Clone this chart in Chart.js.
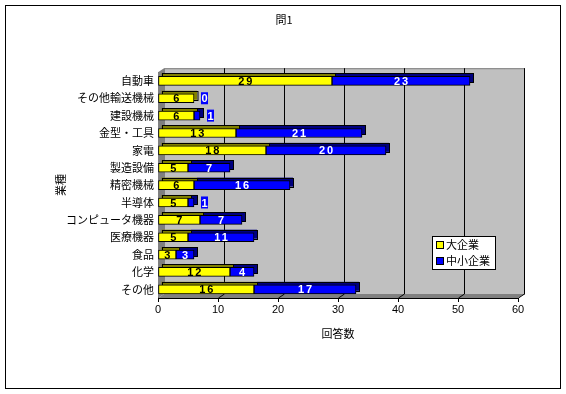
<!DOCTYPE html>
<html>
<head>
<meta charset="utf-8">
<script src="https://cdn.jsdelivr.net/npm/chart.js@4"></script>
<style>
  html, body { margin: 0; padding: 0; background: #fff; }
  #wrap { width: 566px; height: 394px; }
</style>
</head>
<body>
<div id="wrap"><canvas id="chart" width="566" height="394"></canvas></div>
<script>
// 業種ごとの回答数
const categories = ['自動車', 'その他輸送機械', '建設機械', '金型・工具', '家電', '製造設備', '精密機械',
    '半導体', 'コンピュータ機器', '医療機器', '食品', '化学', 'その他'];
const largeCo = [29, 6, 6, 13, 18, 5, 6, 5, 7, 5, 3, 12, 16];
const smallCo = [23, 0, 1, 21, 20, 7, 16, 1, 7, 11, 3, 4, 17];
const xTicks = [0, 10, 20, 30, 40, 50, 60];

const JP = '"Noto Sans CJK JP", sans-serif';
const DEPTH_X = 6, DEPTH_Y = 4;

// 背景の壁と床（3D風）
const wallPlugin = {
    id: 'wall',
    beforeDatasetsDraw(chart) {
        const { ctx, chartArea: a, scales: { x } } = chart;
        ctx.save();
        // 左の壁
        ctx.fillStyle = '#808080';
        ctx.beginPath();
        ctx.moveTo(a.left, a.top);
        ctx.lineTo(a.left + DEPTH_X, a.top - DEPTH_Y);
        ctx.lineTo(a.left + DEPTH_X, a.bottom - DEPTH_Y);
        ctx.lineTo(a.left, a.bottom);
        ctx.closePath();
        ctx.fill();
        // 奥の壁
        ctx.fillStyle = '#c0c0c0';
        ctx.fillRect(a.left + DEPTH_X, a.top - DEPTH_Y, a.right - a.left, a.bottom - a.top);
        ctx.strokeStyle = '#808080';
        ctx.lineWidth = 1;
        ctx.strokeRect(a.left + DEPTH_X + 0.5, a.top - DEPTH_Y + 0.5, a.right - a.left, a.bottom - a.top);
        // 床
        ctx.fillStyle = '#808080';
        ctx.beginPath();
        ctx.moveTo(a.left, a.bottom);
        ctx.lineTo(a.left + DEPTH_X, a.bottom - DEPTH_Y);
        ctx.lineTo(a.right + DEPTH_X, a.bottom - DEPTH_Y);
        ctx.lineTo(a.right, a.bottom);
        ctx.closePath();
        ctx.fill();
        // 目盛線
        ctx.strokeStyle = '#000';
        x.ticks.forEach(t => {
            if (t.value === 0) return;
            const px = Math.round(x.getPixelForValue(t.value) + DEPTH_X) + 0.5;
            ctx.beginPath();
            ctx.moveTo(px, a.top - DEPTH_Y);
            ctx.lineTo(px, a.bottom - DEPTH_Y);
            ctx.lineTo(px - DEPTH_X, a.bottom);
            ctx.stroke();
        });
        // 棒の奥行き
        chart.data.datasets.forEach((ds, i) => {
            const meta = chart.getDatasetMeta(i);
            meta.data.forEach(bar => {
                const { x: xe, base, y, height } = bar.getProps(['x', 'base', 'y', 'height'], true);
                const w = xe - base;
                if (w <= 0) return;
                ctx.fillStyle = ds.shadowColor;
                ctx.fillRect(base + 3, y - height / 2 - 3, w, height);
                ctx.strokeStyle = '#000';
                ctx.strokeRect(Math.round(base + 3) + 0.5, Math.round(y - height / 2 - 3) + 0.5, w, height);
            });
        });
        ctx.restore();
    }
};

// 値ラベル
const valueLabels = {
    id: 'valueLabels',
    afterDatasetsDraw(chart) {
        const { ctx } = chart;
        ctx.save();
        ctx.font = 'bold 11px "Liberation Sans", sans-serif';
        ctx.letterSpacing = '2px';
        ctx.textAlign = 'center';
        ctx.textBaseline = 'middle';
        chart.data.datasets.forEach((ds, i) => {
            const meta = chart.getDatasetMeta(i);
            meta.data.forEach((bar, j) => {
                const v = ds.data[j];
                const { x: xe, base, y } = bar.getProps(['x', 'base', 'y'], true);
                const w = xe - base;
                const txt = String(v);
                if (w < 12) {
                    const bx = xe + 7;
                    ctx.fillStyle = ds.backgroundColor;
                    ctx.fillRect(bx, y - 6, 7, 12);
                    ctx.fillStyle = ds.labelColor;
                    ctx.fillText(txt, bx + 4.5, y + 1);
                } else {
                    ctx.fillStyle = ds.labelColor;
                    ctx.fillText(txt, base + w / 2 + 1, y + 1);
                }
            });
        });
        ctx.restore();
    }
};

// 凡例と外枠
const frame = {
    id: 'frame',
    afterDraw(chart) {
        const { ctx } = chart;
        ctx.save();
        ctx.strokeStyle = '#000';
        ctx.lineWidth = 1;
        ctx.strokeRect(5.5, 5.5, 555, 383);
        // 凡例
        const lx = 432, ly = 236;
        ctx.fillStyle = '#fff';
        ctx.fillRect(lx, ly, 63, 33);
        ctx.strokeRect(lx + 0.5, ly + 0.5, 63, 33);
        ctx.font = '11px ' + JP;
        ctx.textBaseline = 'middle';
        chart.data.datasets.forEach((ds, i) => {
            const yy = ly + 9 + i * 16;
            ctx.fillStyle = ds.backgroundColor;
            ctx.fillRect(lx + 5, yy - 3, 6, 6);
            ctx.strokeRect(lx + 4.5, yy - 3.5, 7, 7);
            ctx.fillStyle = '#000';
            ctx.fillText(ds.label, lx + 14, yy);
        });
        ctx.restore();
    }
};

new Chart(document.getElementById('chart'), {
    type: 'bar',
    data: {
        labels: categories,
        datasets: [
            {
                label: '大企業',
                data: largeCo,
                backgroundColor: '#ffff00',
                shadowColor: '#808000',
                labelColor: '#000',
                borderColor: '#000',
                borderWidth: 1,
                borderSkipped: false
            },
            {
                label: '中小企業',
                data: smallCo,
                backgroundColor: '#0000ff',
                shadowColor: '#000080',
                labelColor: '#fff',
                borderColor: '#000',
                borderWidth: 1,
                borderSkipped: false
            }
        ]
    },
    options: {
        indexAxis: 'y',
        responsive: false,
        animation: false,
        layout: { padding: { left: 50, right: 48, top: 0, bottom: 46 } },
        barThickness: 9,
        plugins: {
            legend: { display: false },
            tooltip: { enabled: false },
            title: {
                display: true,
                text: '問1',
                color: '#000',
                font: { family: JP, size: 11, weight: 'normal' },
                padding: { top: 13, bottom: 46 }
            }
        },
        scales: {
            x: {
                stacked: true,
                min: 0,
                max: 60,
                afterBuildTicks: s => { s.ticks = xTicks.map(v => ({ value: v })); },
                afterFit: s => { s.height = 50; },
                grid: { display: true, drawOnChartArea: false, drawTicks: true, tickLength: 4, color: '#000' },
                border: { display: true, color: '#000' },
                ticks: {
                    color: '#000',
                    padding: 1,
                    font: { family: '"Liberation Sans", sans-serif', size: 11 }
                },
                title: {
                    display: true,
                    text: '回答数',
                    color: '#000',
                    font: { family: JP, size: 11 },
                    padding: { top: 0, bottom: 8 }
                }
            },
            y: {
                stacked: true,
                afterFit: s => { s.width = 108; },
                grid: { display: false, drawTicks: false },
                border: { display: true, color: '#000' },
                ticks: {
                    color: '#000',
                    padding: 4,
                    autoSkip: false,
                    font: { family: JP, size: 11 }
                },
                title: {
                    display: true,
                    text: '業種',
                    color: '#000',
                    font: { family: JP, size: 11 },
                    padding: { top: 4, bottom: 0 }
                }
            }
        }
    },
    plugins: [wallPlugin, valueLabels, frame]
});
</script>
</body>
</html>
